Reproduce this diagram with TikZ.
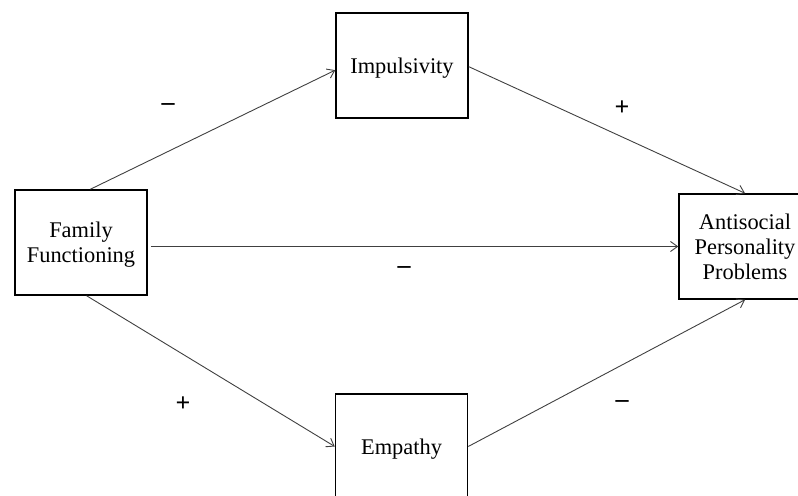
\documentclass[tikz,border=0pt]{standalone}
\usepackage{fontspec}
\setmainfont{Liberation Serif}
\usetikzlibrary{arrows.meta,positioning}

\begin{document}
\begin{tikzpicture}[
    x=0.5pt, y=-0.5pt,
    every node/.style={font=\fontsize{11.2}{12.4}\selectfont},
    block/.style={rectangle, draw=black, line width=0.75pt, minimum width=66pt, minimum height=52.5pt, text centered, align=center, inner sep=2pt, text depth=0pt},
    arrow/.style={line width=0.45pt, draw=black!75, -{Straight Barb[length=3.5pt,width=5pt]}},
    sign/.style={font=\fontsize{13}{14}\selectfont\bfseries, inner sep=0pt}
]
    \useasboundingbox (0,0) rectangle (798,496);

    % Nodes
    \node[block] (family) at (81,242.5) {Family\\Functioning};
    \node[block] (impuls) at (402,65.5) {Impulsivity};
    \node[block] (empathy) at (401.5,446.5) {Empathy};
    \node[block] (antisoc) at (745,246.5) {Antisocial\\Personality\\Problems};

    % Arrows
    \draw[arrow] (family.80) -- (impuls.184);
    \draw[arrow] (family.-84) -- (empathy.west);
    \draw[arrow, shorten <=1.5pt] (family.east |- antisoc.west) -- (antisoc.west);
    \draw[arrow] (impuls.-1) -- (antisoc.north);
    \draw[arrow] (empathy.east) -- (antisoc.south);

    % Annotations
    \node[sign] (famimp) at (168,107) {--};
    \node[sign] (impant) at (622,108) {+};
    \node[sign] (famant) at (404,270) {--};
    \node[sign] (famemp) at (183,404) {+};
    \node[sign] (empant) at (622,404) {--};

\end{tikzpicture}
\end{document}
